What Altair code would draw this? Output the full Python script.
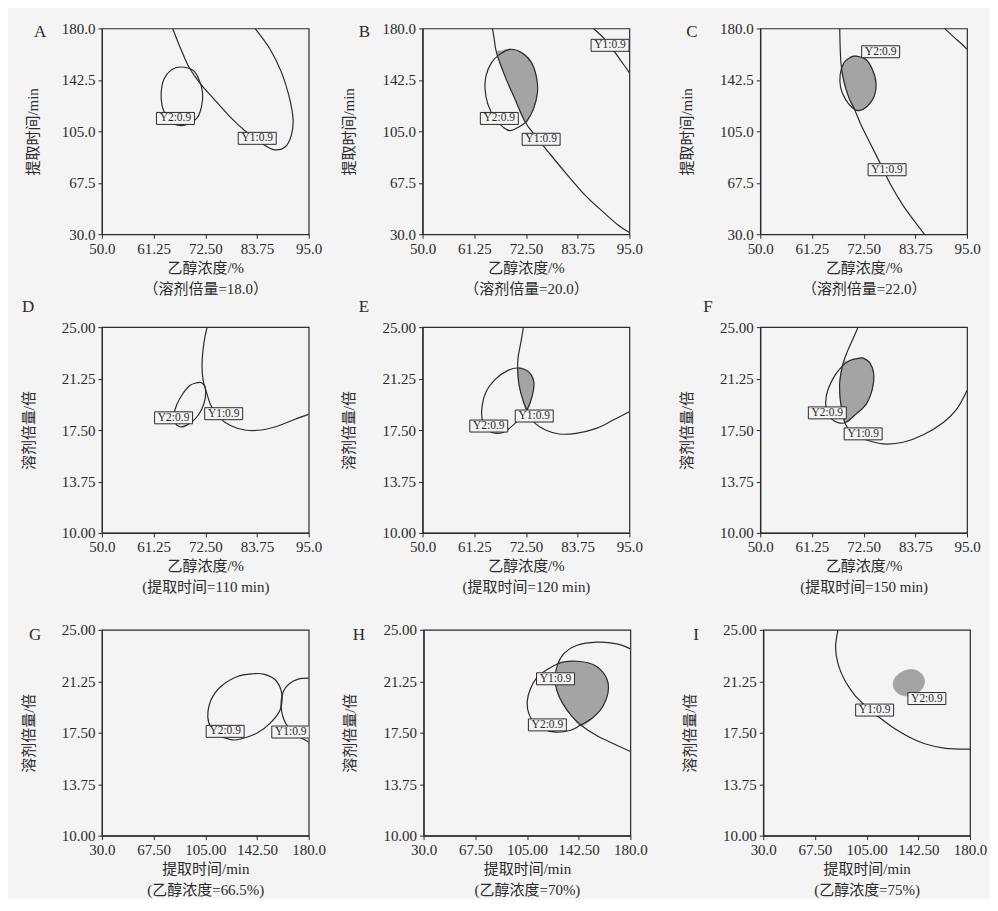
import altair as alt
import pandas as pd

FONT = "Liberation Serif, Noto Sans CJK SC"
INK = "#2b2b2b"
BG = "#f4f4f4"
SHADE = "#a4a4a4"

# ---------------- axis ticks / labels ----------------
CONC_TICKS = [50.0, 61.25, 72.5, 83.75, 95.0]
CONC_LABELS = ["50.0", "61.25", "72.50", "83.75", "95.0"]
TIMEY_TICKS = [30.0, 67.5, 105.0, 142.5, 180.0]
TIMEY_LABELS = ["30.0", "67.5", "105.0", "142.5", "180.0"]
TIMEX_TICKS = [30.0, 67.5, 105.0, 142.5, 180.0]
TIMEX_LABELS = ["30.0", "67.50", "105.00", "142.50", "180.0"]
RATIO_TICKS = [10.0, 13.75, 17.5, 21.25, 25.0]
RATIO_LABELS = ["10.00", "13.75", "17.50", "21.25", "25.00"]

# ---------------- contour traces ----------------
# A: 乙醇浓度 x 提取时间, 溶剂倍量=18
A_Y1 = [(65.4, 180), (67.2, 164.8), (69.0, 151.5), (71.5, 139.4), (74.4, 128.5), (78.0, 115.2),
        (81.5, 104.3), (84.4, 97.0), (87.3, 91.7), (89.8, 93.4), (91.2, 101.9), (91.6, 114.0),
        (90.7, 130.9), (89.1, 147.8), (86.6, 164.8), (83.3, 180)]
A_Y2 = [(67.2, 151.9), (65.1, 149.8), (63.5, 143.0), (62.9, 133.3), (63.1, 123.6), (64.0, 116.4),
        (65.4, 110.8), (67.2, 109.1), (69.0, 110.8), (70.8, 115.2), (71.7, 123.6), (71.9, 133.3),
        (71.1, 143.0), (69.7, 149.8)]
A_LABELS = [("Y2:0.9", 66.0, 114.4), ("Y1:0.9", 83.8, 99.9)]

# B: 溶剂倍量=20
B_Y1a = [(65.2, 180), (65.6, 172.0), (66.1, 162.3), (67.9, 145.4), (70.1, 128.5), (72.3, 112.0),
         (74.5, 101.9), (77.4, 89.8), (81.0, 75.2), (85.4, 58.3), (89.7, 45.0), (92.6, 36.5), (95.0, 31.2)]
B_Y1b = [(87.2, 180), (89.7, 172.0), (91.9, 162.3), (93.7, 153.9), (95.0, 147.8)]
B_Y2 = [(69.0, 164.8), (66.8, 161.1), (65.0, 155.1), (63.8, 145.4), (63.6, 135.7), (64.2, 124.8),
        (65.8, 114.0), (67.6, 107.9), (69.0, 105.5), (70.8, 107.9), (72.7, 112.7), (74.1, 121.2),
        (75.0, 133.3), (74.8, 144.2), (73.7, 155.1), (71.6, 162.3)]
B_SHADE = [(66.3, 161.9), (67.9, 145.4), (70.1, 128.5), (72.3, 112.0), (73.4, 116.4), (74.3, 122.4),
           (75.0, 133.3), (74.8, 144.2), (73.7, 155.1), (71.6, 162.3), (69.0, 164.8), (67.2, 163.6)]
B_LABELS = [("Y2:0.9", 66.7, 114.4), ("Y1:0.9", 75.8, 99.2), ("Y1:0.9", 90.8, 167.7)]

# C: 溶剂倍量=22
C_Y1a = [(67.3, 180), (67.4, 165.9), (67.6, 153.7), (68.2, 141.5), (69.3, 129.4), (70.4, 122.0),
         (71.9, 109.9), (73.7, 97.7), (75.9, 83.1), (78.4, 66.0), (81.0, 51.4), (83.6, 39.3), (85.7, 30)]
C_Y1b = [(90.1, 180), (91.9, 174.4), (93.8, 168.8), (95.0, 164.7)]
C_Y2 = [(70.8, 159.8), (73.0, 157.4), (74.4, 150.1), (75.2, 140.3), (74.8, 130.6), (73.3, 123.3),
        (71.5, 120.1), (70.1, 122.0), (68.6, 128.1), (67.5, 136.7), (67.4, 146.4), (68.2, 154.9), (69.7, 159.1)]
C_SHADE = [(69.7, 159.1), (70.8, 159.8), (73.0, 157.4), (74.4, 150.1), (75.2, 140.3), (74.8, 130.6),
           (73.3, 123.3), (71.5, 120.1), (70.4, 121.6), (69.3, 129.4), (68.2, 141.5), (67.7, 150.1), (68.5, 156.1)]
C_LABELS = [("Y2:0.9", 76.2, 163.0), ("Y1:0.9", 77.6, 77.0)]

# D: 乙醇浓度 x 溶剂倍量, 提取时间=110
D_Y1 = [(72.9, 25), (72.2, 23.84), (71.8, 22.39), (72.0, 21.18), (72.8, 20.21), (73.8, 19.24),
        (75.6, 18.39), (78.2, 17.79), (81.1, 17.5), (84.7, 17.5), (88.3, 17.79), (91.9, 18.27), (95.0, 18.64)]
D_Y2 = [(70.6, 20.94), (69.1, 20.74), (67.5, 20.09), (66.3, 19.36), (65.7, 18.64), (65.9, 18.03),
        (67.0, 17.74), (68.4, 17.84), (70.2, 18.27), (71.7, 19.0), (72.5, 19.85), (72.5, 20.57), (71.7, 20.94)]
D_LABELS = [("Y2:0.9", 65.6, 18.39), ("Y1:0.9", 76.5, 18.69)]

# E: 提取时间=120
E_Y1 = [(71.95, 25), (71.4, 23.91), (70.8, 22.82), (70.7, 21.98), (71.0, 20.77), (71.95, 19.56),
        (73.05, 18.71), (74.5, 17.98), (76.75, 17.5), (79.7, 17.21), (83.4, 17.26), (87.8, 17.62),
        (91.5, 18.23), (95.0, 18.83)]
E_Y2 = [(70.8, 22.02), (68.6, 21.85), (66.0, 21.25), (63.8, 20.28), (62.9, 19.07), (63.1, 18.1),
        (64.2, 17.5), (66.0, 17.26), (67.9, 17.38), (69.7, 17.86), (71.2, 18.35), (72.7, 18.95),
        (73.9, 20.04), (74.2, 21.01), (73.05, 21.74)]
E_SHADE = [(70.7, 21.98), (71.0, 20.77), (71.95, 19.56), (72.7, 18.95), (73.65, 19.67), (74.2, 20.77),
           (73.8, 21.49), (72.3, 21.93)]
E_LABELS = [("Y2:0.9", 64.4, 17.79), ("Y1:0.9", 74.3, 18.52)]

# F: 提取时间=150
F_Y1 = [(71.3, 25), (70.2, 24.15), (68.9, 23.18), (67.9, 22.2), (67.3, 20.99), (67.4, 19.77),
        (68.0, 18.56), (68.7, 17.83), (70.2, 17.22), (72.8, 16.81), (76.8, 16.49), (81.1, 16.61),
        (85.5, 17.15), (89.9, 18.07), (92.8, 19.04), (95.0, 20.38)]
F_Y2 = [(71.7, 22.74), (69.5, 22.57), (67.65, 22.08), (65.8, 21.23), (64.4, 20.02), (64.4, 18.92),
        (65.5, 18.31), (67.1, 18.02), (68.7, 18.07), (70.9, 18.68), (73.1, 19.41), (74.4, 20.5),
        (74.7, 21.6), (73.85, 22.4), (72.4, 22.74)]
F_SHADE = [(68.0, 22.33), (67.3, 20.99), (67.4, 19.77), (68.0, 18.56), (68.6, 18.07), (70.9, 18.68),
           (73.1, 19.41), (74.4, 20.5), (74.7, 21.6), (73.85, 22.4), (72.4, 22.74), (71.7, 22.74), (69.5, 22.57)]
F_LABELS = [("Y2:0.9", 64.6, 18.75), ("Y1:0.9", 72.4, 17.22)]

# G: 提取时间 x 溶剂倍量, 乙醇浓度=66.5%
G_Y1 = [(180, 21.48), (172.4, 21.41), (165.9, 21.07), (161.6, 20.51), (160.0, 19.78), (160.4, 19.05),
        (162.1, 18.45), (165.2, 17.91), (171.2, 17.35), (176.0, 17.04), (180, 16.82)]
G_Y2 = [(140.2, 21.8), (128.3, 21.6), (116.3, 20.87), (109.2, 19.9), (106.8, 18.69), (109.2, 17.84),
        (113.9, 17.35), (123.5, 16.99), (130.6, 17.04), (142.6, 17.48), (152.1, 18.2), (159.3, 19.17),
        (160.4, 20.39), (155.7, 21.36), (147.3, 21.77)]
G_LABELS = [("Y2:0.9", 119.4, 17.6), ("Y1:0.9", 167.0, 17.55)]

# H: 乙醇浓度=70%
H_Y1 = [(180, 23.61), (170.2, 23.98), (155.5, 24.1), (140.9, 23.86), (132.3, 23.32), (127.4, 22.52),
        (125.4, 21.55), (126.7, 20.58), (131.1, 19.6), (137.2, 18.75), (144.5, 18.02), (155.5, 17.29),
        (167.8, 16.69), (180, 16.13)]
H_Y2 = [(143.3, 22.69), (131.1, 22.64), (121.3, 22.2), (111.5, 21.43), (105.9, 20.21), (105.4, 19.24),
        (109.0, 18.39), (116.4, 17.78), (126.2, 17.54), (136.0, 17.66), (143.3, 18.02), (153.1, 18.63),
        (160.4, 19.48), (164.1, 20.7), (161.7, 21.67), (154.3, 22.4)]
H_SHADE = [(128.6, 22.59), (143.3, 22.69), (154.3, 22.4), (161.7, 21.67), (164.1, 20.7), (160.4, 19.48),
           (153.1, 18.63), (144.5, 18.02), (137.2, 18.75), (131.1, 19.6), (126.7, 20.58), (125.4, 21.55),
           (127.4, 22.4)]
H_LABELS = [("Y1:0.9", 125.7, 21.43), ("Y2:0.9", 119.8, 18.07)]

# I: 乙醇浓度=75%
I_Y1 = [(84.2, 25), (82.5, 23.74), (84.2, 22.53), (89.1, 21.32), (96.5, 20.23), (105.0, 19.39),
        (113.6, 18.66), (123.3, 17.94), (135.5, 17.21), (147.8, 16.68), (162.4, 16.36), (180, 16.31)]
I_Y2 = [(138.0, 22.1), (144.1, 21.85), (147.0, 21.32), (145.3, 20.72), (140.4, 20.35), (134.3, 20.19),
        (128.2, 20.35), (124.5, 20.84), (125.3, 21.44), (130.7, 21.93)]
I_SHADE = I_Y2
I_LABELS = [("Y2:0.9", 148.7, 19.99), ("Y1:0.9", 110.8, 19.15)]

AXES = {
    "ct": dict(xdom=[50, 95], xt=CONC_TICKS, xl=CONC_LABELS, xtitle="乙醇浓度/%",
               ydom=[30, 180], yt=TIMEY_TICKS, yl=TIMEY_LABELS, ytitle="提取时间/min"),
    "cr": dict(xdom=[50, 95], xt=CONC_TICKS, xl=CONC_LABELS, xtitle="乙醇浓度/%",
               ydom=[10, 25], yt=RATIO_TICKS, yl=RATIO_LABELS, ytitle="溶剂倍量/倍"),
    "tr": dict(xdom=[30, 180], xt=TIMEX_TICKS, xl=TIMEX_LABELS, xtitle="提取时间/min",
               ydom=[10, 25], yt=RATIO_TICKS, yl=RATIO_LABELS, ytitle="溶剂倍量/倍"),
}

PANELS = {
    "A": dict(kind="ct", sub="（溶剂倍量=18.0）", open=[A_Y1], closed=[A_Y2], shade=[], labels=A_LABELS, lx=-68, ly=-4, tp=21),
    "B": dict(kind="ct", sub="（溶剂倍量=20.0）", open=[B_Y1a, B_Y1b], closed=[B_Y2], shade=[B_SHADE], labels=B_LABELS, lx=-64, ly=-4, tp=25),
    "C": dict(kind="ct", sub="（溶剂倍量=22.0）", open=[C_Y1a, C_Y1b], closed=[C_Y2], shade=[C_SHADE], labels=C_LABELS, lx=-74, ly=-4, tp=25),
    "D": dict(kind="cr", sub="(提取时间=110 min)", open=[D_Y1], closed=[D_Y2], shade=[], labels=D_LABELS, lx=-80, ly=-28, tp=25),
    "E": dict(kind="cr", sub="(提取时间=120 min)", open=[E_Y1], closed=[E_Y2], shade=[E_SHADE], labels=E_LABELS, lx=-64, ly=-28, tp=25),
    "F": dict(kind="cr", sub="(提取时间=150 min)", open=[F_Y1], closed=[F_Y2], shade=[F_SHADE], labels=F_LABELS, lx=-57, ly=-28, tp=25),
    "G": dict(kind="tr", sub="(乙醇浓度=66.5%)", open=[G_Y1], closed=[G_Y2], shade=[], labels=G_LABELS, lx=-73, ly=-3, tp=25),
    "H": dict(kind="tr", sub="(乙醇浓度=70%)", open=[H_Y1], closed=[H_Y2], shade=[H_SHADE], labels=H_LABELS, lx=-71, ly=-3, tp=25),
    "I": dict(kind="tr", sub="(乙醇浓度=75%)", open=[I_Y1], closed=[], shade=[I_SHADE], labels=I_LABELS, lx=-70, ly=-3, tp=25),
}

W, H = 207, 206


def label_expr(ticks, labels):
    expr = "datum.label"
    for t, l in reversed(list(zip(ticks, labels))):
        expr = f"abs(datum.value - {t}) < 1e-6 ? '{l}' : ({expr})"
    return expr


def curves_df(curves):
    rows = []
    for k, pts in enumerate(curves):
        for i, (x, y) in enumerate(pts):
            rows.append({"curve": k, "i": i, "x": x, "y": y})
    return pd.DataFrame(rows, columns=["curve", "i", "x", "y"])


def panel(letter):
    p = PANELS[letter]
    a = AXES[p["kind"]]
    X = alt.X("x:Q", scale=alt.Scale(domain=a["xdom"], nice=False, zero=False),
              axis=alt.Axis(values=a["xt"], labelExpr=label_expr(a["xt"], a["xl"]),
                            title=[a["xtitle"], p["sub"]], labelFlush=False, labelOverlap=False,
                            titlePadding=4, titleLineHeight=21))
    Y = alt.Y("y:Q", scale=alt.Scale(domain=a["ydom"], nice=False, zero=False),
              axis=alt.Axis(values=a["yt"], labelExpr=label_expr(a["yt"], a["yl"]),
                            title=a["ytitle"], labelOverlap=False, titlePadding=p["tp"]))
    layers = []
    if p["shade"]:
        layers.append(alt.Chart(curves_df(p["shade"])).mark_line(
            interpolate="cardinal-closed", fill=SHADE, stroke=SHADE, strokeWidth=0.8, clip=True
        ).encode(x=X, y=Y, detail="curve:N", order="i:Q"))
    if p["open"]:
        layers.append(alt.Chart(curves_df(p["open"])).mark_line(
            interpolate="cardinal", color=INK, strokeWidth=1.2, clip=True
        ).encode(x=X, y=Y, detail="curve:N", order="i:Q"))
    if p["closed"]:
        layers.append(alt.Chart(curves_df(p["closed"])).mark_line(
            interpolate="cardinal-closed", color=INK, strokeWidth=1.2, clip=True
        ).encode(x=X, y=Y, detail="curve:N", order="i:Q"))
    ldf = pd.DataFrame(p["labels"], columns=["t", "x", "y"])
    layers.append(alt.Chart(ldf).mark_rect(
        width=38, height=12, fill=BG, stroke=INK, strokeWidth=1, clip=True
    ).encode(x=X, y=Y))
    layers.append(alt.Chart(ldf).mark_text(
        font=FONT, fontSize=11.5, color=INK, clip=True
    ).encode(x=X, y=Y, text="t:N"))
    layers.append(alt.Chart(pd.DataFrame({"t": [letter]})).mark_text(
        font=FONT, fontSize=17, color=INK, align="left", baseline="top"
    ).encode(x=alt.value(p["lx"]), y=alt.value(p["ly"]), text="t:N"))
    return alt.layer(*layers).properties(width=W, height=H)


def row(a, b, c, s_outer, s_inner):
    return alt.hconcat(panel(a), alt.hconcat(panel(b), panel(c), spacing=s_inner), spacing=s_outer)


chart = alt.vconcat(
    row("A", "B", "C", 18, 35),
    alt.vconcat(row("D", "E", "F", 18, 35), row("G", "H", "I", 15, 33), spacing=26),
    spacing=0,
).properties(
    background=BG,
    padding={"left": 12, "top": 12, "right": 2, "bottom": 0},
).configure_view(
    stroke=INK, strokeWidth=1.2
).configure_axis(
    grid=False, domainColor=INK, tickColor=INK, labelColor=INK, titleColor=INK,
    labelFont=FONT, titleFont=FONT, labelFontSize=15, titleFontSize=15,
    titleFontWeight="normal", tickSize=4, labelPadding=3, domainWidth=1.2
)

chart.save("out.html", embed_options={"renderer": "svg", "actions": False})
